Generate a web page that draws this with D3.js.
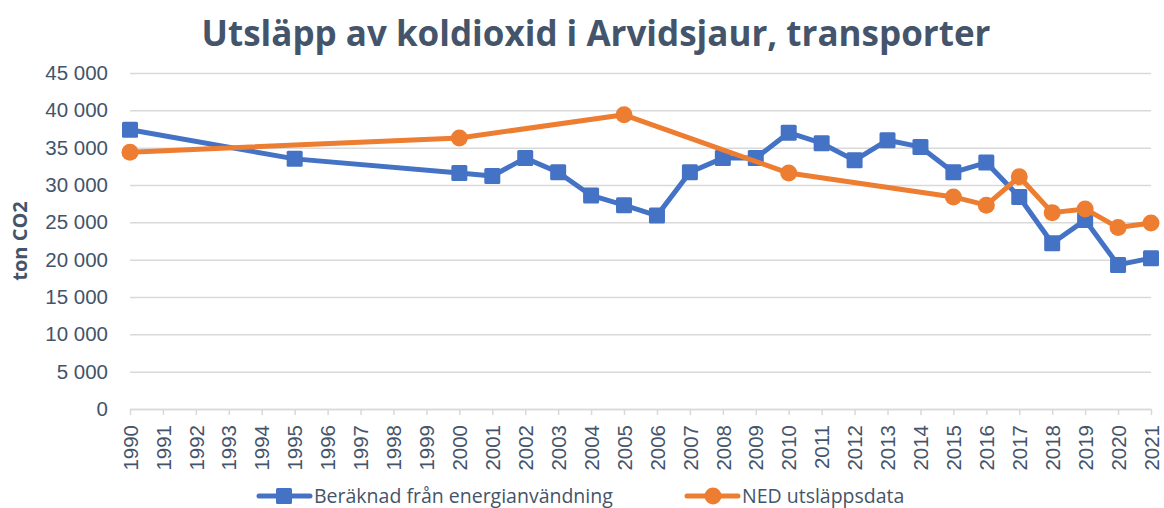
<!DOCTYPE html>
<html>
<head>
<meta charset="utf-8">
<script src="https://cdn.jsdelivr.net/npm/d3@7"></script>
<style>
  body { margin: 0; background: #fff; }
  svg { font-family: "Open Sans", "Noto Sans", sans-serif; }
</style>
</head>
<body>
<div id="chart"></div>
<script>
const years = d3.range(1990, 2022);
const yTicks = [0, 5000, 10000, 15000, 20000, 25000, 30000, 35000, 40000, 45000];

// Beräknad från energianvändning
const energyYears = [1990, 1995, 2000, 2001, 2002, 2003, 2004, 2005, 2006, 2007, 2008, 2009, 2010,
  2011, 2012, 2013, 2014, 2015, 2016, 2017, 2018, 2019, 2020, 2021];
const energyValues = [37400, 33500, 31600, 31200, 33600, 31700, 28600, 27300, 25900, 31700, 33600, 33600, 37000,
  35600, 33300, 36000, 35100, 31700, 33000, 28400, 22200, 25300, 19300, 20200];

// NED utsläppsdata
const nedYears = [1990, 2000, 2005, 2010, 2015, 2016, 2017, 2018, 2019, 2020, 2021];
const nedValues = [34400, 36300, 39400, 31600, 28400, 27300, 31100, 26300, 26800, 24300, 24900];

const W = 1164, H = 508;
const margin = {left: 130, right: 13, top: 73, bottom: 99};
const textCol = '#44546A';
const blue = '#4472C4', orange = '#ED7D31';

const svg = d3.select('#chart').append('svg')
  .attr('width', W).attr('height', H);

const x = d3.scaleLinear().domain([1990, 2021]).range([margin.left, W - margin.right]);
const y = d3.scaleLinear().domain([0, 45000]).range([H - margin.bottom, margin.top]);

const fmt = v => d3.format(',')(v).replace(/,/g, ' ');

// title
svg.append('text')
  .attr('x', 596).attr('y', 46)
  .attr('text-anchor', 'middle')
  .attr('font-size', 35).attr('font-weight', 'bold')
  .attr('fill', textCol)
  .text('Utsläpp av koldioxid i Arvidsjaur, transporter');

// grid + y labels
const yAxis = svg.append('g')
  .attr('transform', `translate(${margin.left},0)`)
  .call(d3.axisLeft(y).tickValues(yTicks).tickSize(-(W - margin.left - margin.right)).tickFormat(fmt).tickPadding(22));
yAxis.select('.domain').remove();
yAxis.selectAll('.tick line').attr('stroke', '#D9D9D9').attr('stroke-width', 1.5);
yAxis.selectAll('.tick text').attr('font-size', 20.5).attr('fill', textCol);

// x axis
const xAxis = svg.append('g')
  .attr('transform', `translate(0,${y(0)})`)
  .call(d3.axisBottom(x).tickValues(years).tickFormat(d3.format('d')).tickSize(6).tickSizeOuter(0));
xAxis.select('.domain').attr('stroke', '#D9D9D9').attr('stroke-width', 1.5);
xAxis.selectAll('.tick line').attr('stroke', '#D9D9D9').attr('stroke-width', 1.5);
xAxis.selectAll('.tick text')
  .attr('font-size', 20.5).attr('fill', textCol)
  .attr('transform', 'rotate(-90)')
  .attr('text-anchor', 'end')
  .attr('x', -16).attr('y', 0).attr('dy', '0.35em');

// y axis label
svg.append('text')
  .attr('transform', `translate(27,${(y(0) + y(45000)) / 2}) rotate(-90)`)
  .attr('text-anchor', 'middle')
  .attr('font-size', 20).attr('font-weight', 'bold')
  .attr('fill', textCol)
  .text('ton CO2');

const line = d3.line().x(d => x(d[0])).y(d => y(d[1]));

const energy = energyYears.map((yr, i) => [yr, energyValues[i]]);
const ned = nedYears.map((yr, i) => [yr, nedValues[i]]);

svg.append('path').datum(energy)
  .attr('fill', 'none').attr('stroke', blue).attr('stroke-width', 5)
  .attr('stroke-linejoin', 'round').attr('d', line);
svg.selectAll('.sq').data(energy).enter().append('rect')
  .attr('class', 'sq')
  .attr('x', d => x(d[0]) - 8).attr('y', d => y(d[1]) - 8)
  .attr('width', 16).attr('height', 16).attr('rx', 1.5)
  .attr('fill', blue);

svg.append('path').datum(ned)
  .attr('fill', 'none').attr('stroke', orange).attr('stroke-width', 5)
  .attr('stroke-linejoin', 'round').attr('d', line);
svg.selectAll('.dot').data(ned).enter().append('circle')
  .attr('class', 'dot')
  .attr('cx', d => x(d[0])).attr('cy', d => y(d[1])).attr('r', 8.5)
  .attr('fill', orange);

// legend
const legend = [
  {name: 'Beräknad från energianvändning', color: blue, shape: 'square', x0: 259},
  {name: 'NED utsläppsdata', color: orange, shape: 'circle', x0: 687}
];
const lg = svg.selectAll('.lg').data(legend).enter().append('g')
  .attr('class', 'lg')
  .attr('transform', d => `translate(${d.x0},496)`);
lg.append('line').attr('x1', 0).attr('x2', 51).attr('y1', 0).attr('y2', 0)
  .attr('stroke', d => d.color).attr('stroke-width', 5).attr('stroke-linecap', 'round');
lg.filter(d => d.shape === 'square').append('rect')
  .attr('x', 17).attr('y', -8).attr('width', 16).attr('height', 16).attr('rx', 1.5)
  .attr('fill', d => d.color);
lg.filter(d => d.shape === 'circle').append('circle')
  .attr('cx', 26).attr('cy', 0).attr('r', 8.5)
  .attr('fill', d => d.color);
lg.append('text').attr('x', 55).attr('y', 7)
  .attr('font-size', 19.5).attr('fill', textCol)
  .text(d => d.name);
</script>
</body>
</html>
